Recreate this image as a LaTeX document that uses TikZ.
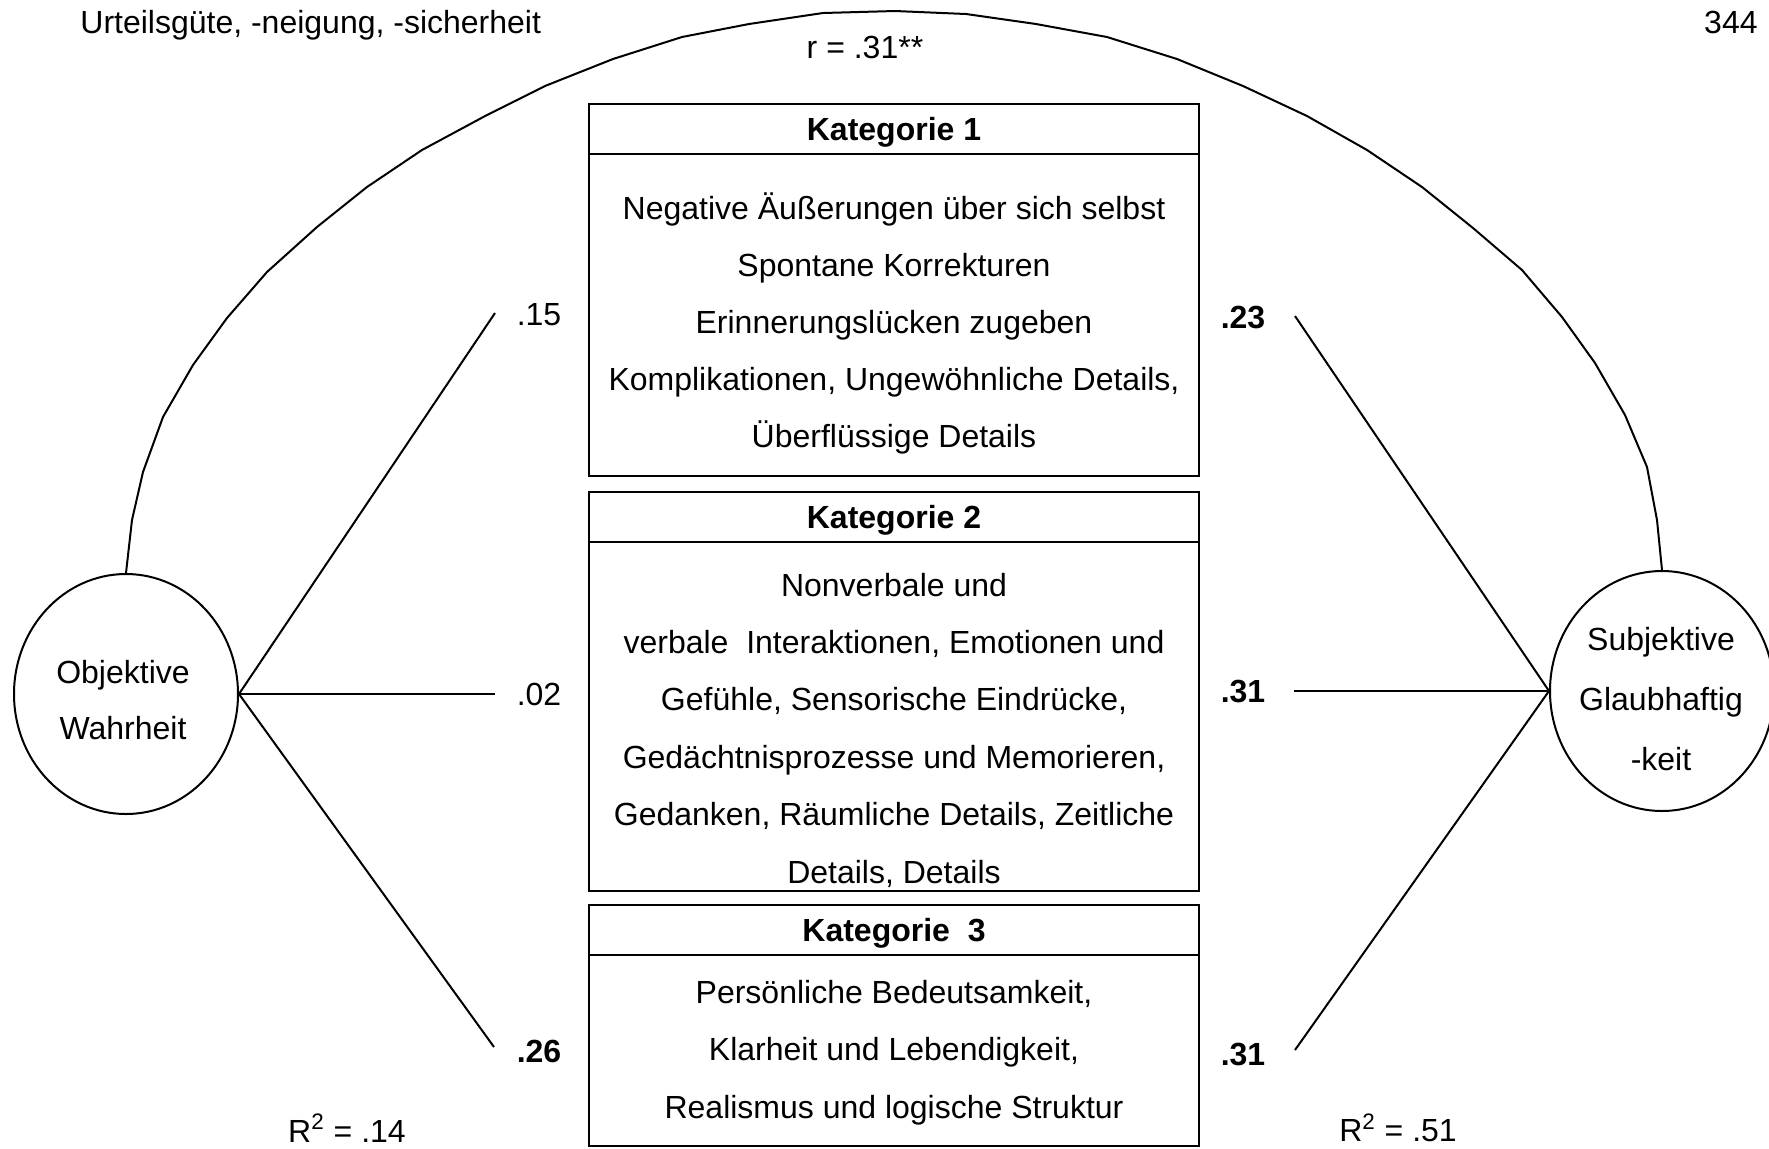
\documentclass[tikz,border=0pt]{standalone}
\usepackage{fontspec}
\setmainfont{Liberation Sans}
\usetikzlibrary{shapes.geometric}
\begin{document}
\begin{tikzpicture}[x=0.5pt,y=-0.5pt,
  every node/.style={font=\fontsize{16}{28.5}\selectfont, inner sep=0pt},
  catbox/.style={draw, line width=1.2pt, rectangle, minimum width=305pt},
  cathead/.style={catbox, minimum height=25pt, text depth=0pt, font=\fontsize{16}{28.5}\selectfont\bfseries},
  latent/.style={draw, line width=1pt, ellipse, minimum width=112pt, minimum height=120pt},
  path/.style={line width=1pt},
  coef/.style={anchor=center},
  bodytext/.style={align=center}]
\useasboundingbox (0,0) rectangle (1769,1148);

% header texts
\node[anchor=base west] (hdr) at (80,33) {Urteilsgüte, -neigung, -sicherheit};
\node[anchor=base east] (pg) at (1758,33) {344};
\node[anchor=base] (rr) at (865,58) {r = .31**};

% category boxes
\node[cathead] (h1) at (894,129) {Kategorie 1};
\node[catbox, minimum height=161pt] (b1) at (894,315) {};
\node[bodytext] (t1) at (894,323) {Negative Äußerungen über sich selbst\\Spontane Korrekturen\\Erinnerungslücken zugeben\\Komplikationen, Ungewöhnliche Details,\\Überflüssige Details};

\node[cathead] (h2) at (894,517) {Kategorie 2};
\node[catbox, minimum height=174.5pt] (b2) at (894,716.5) {};
\node[bodytext, font=\fontsize{16}{28.7}\selectfont] (t2) at (894,730) {Nonverbale und\\verbale\ \ Interaktionen, Emotionen und\\Gefühle, Sensorische Eindrücke,\\Gedächtnisprozesse und Memorieren,\\Gedanken, Räumliche Details, Zeitliche\\Details, Details};

\node[cathead] (h3) at (894,930) {Kategorie\ \ 3};
\node[catbox, minimum height=95.5pt] (b3) at (894,1050.5) {};
\node[bodytext, font=\fontsize{16}{28.7}\selectfont] (t3) at (894,1052.5) {Persönliche Bedeutsamkeit,\\Klarheit und Lebendigkeit,\\Realismus und logische Struktur};

% latent variables
\node[latent] (L) at (126,694) {};
\node[bodytext, font=\fontsize{16}{28}\selectfont] (Ltext) at (123,700) {Objektive\\Wahrheit};
\node[latent] (R) at (1662,691) {};
\node[bodytext, font=\fontsize{16}{30}\selectfont] (Rtext) at (1661,699) {Subjektive\\Glaubhaftig\\-keit};

% path end points
\coordinate (e15) at (495,313);
\coordinate (e02) at (495,694);
\coordinate (e26) at (494,1047);
\coordinate (e23) at (1295,316);
\coordinate (e31a) at (1294,691);
\coordinate (e31b) at (1295,1050);

\draw[path] (L.east) -- (e15);
\draw[path] (L.east) -- (e02);
\draw[path] (L.east) -- (e26);
\draw[path] (R.west) -- (e23);
\draw[path] (R.west) -- (e31a);
\draw[path] (R.west) -- (e31b);

% coefficients
\node[coef] (c15) at (539,315) {.15};
\node[coef] (c02) at (539,694) {.02};
\node[coef] (c26) at (539,1051) {\textbf{.26}};
\node[coef] (c23) at (1243,317) {\textbf{.23}};
\node[coef] (c31a) at (1243,691) {\textbf{.31}};
\node[coef] (c31b) at (1243,1054) {\textbf{.31}};

% R squared
\node (r2l) at (347,1128) {R\textsuperscript{2} = .14};
\node (r2r) at (1398,1128) {R\textsuperscript{2} = .51};

% correlation arc
\draw[path, line join=round] (L.north) -- (132,520) -- (143,472) -- (163,417) -- (193,365) -- (227,318) -- (267,272) -- (317,227) -- (367,187) -- (422,150) -- (487,115) -- (545,86) -- (613,59) -- (682,37) -- (749,24) -- (823,13) -- (895,11) -- (966,14) -- (1036,24) -- (1107,37) -- (1177,59) -- (1243,86) -- (1307,116) -- (1367,150) -- (1422,187) -- (1473,228) -- (1522,270) -- (1562,317) -- (1595,363) -- (1625,415) -- (1647,467) -- (1657,520) -- (R.north);
\end{tikzpicture}
\end{document}
